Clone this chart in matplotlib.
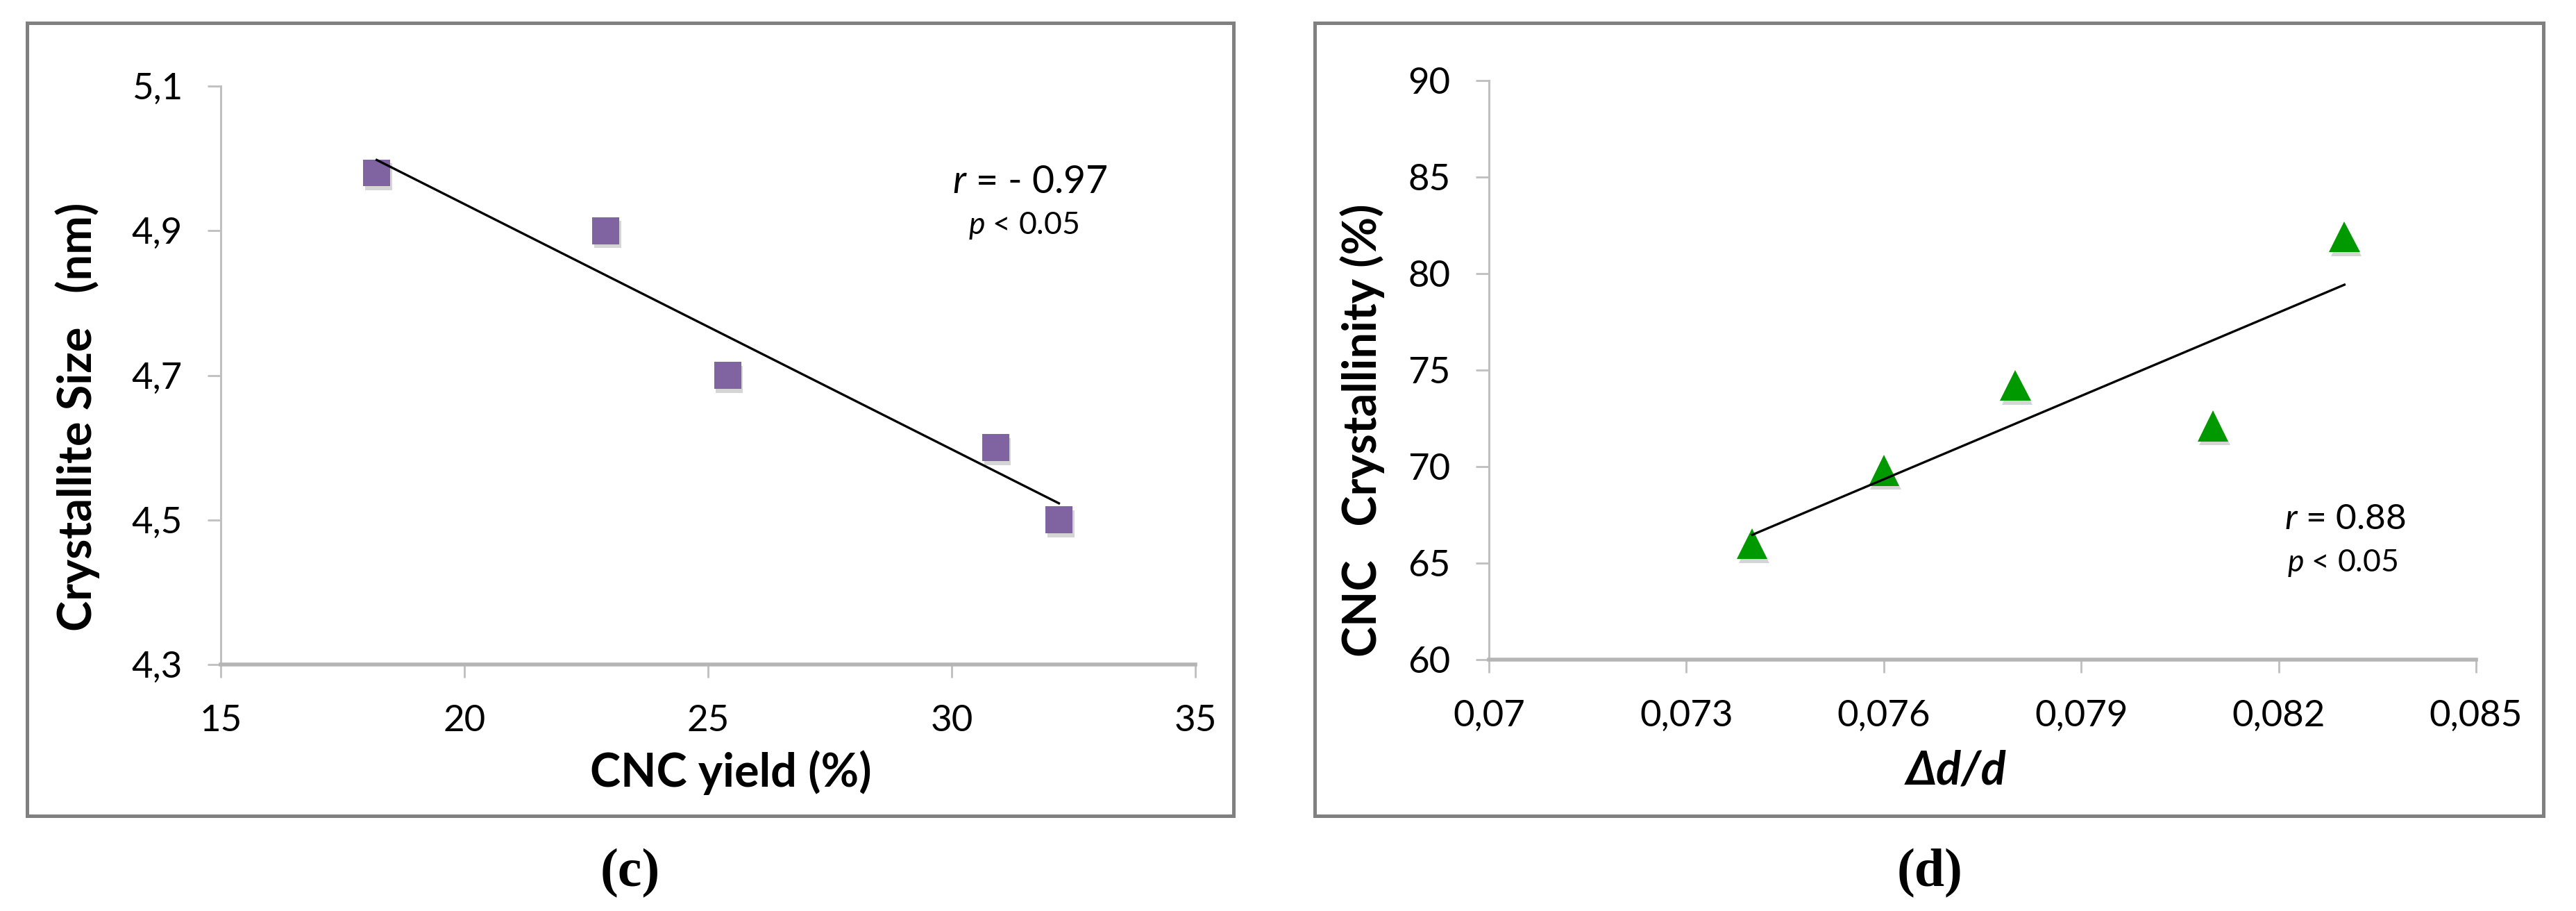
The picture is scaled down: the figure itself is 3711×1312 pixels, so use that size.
import numpy as np
import matplotlib
matplotlib.use("Agg")
import matplotlib.pyplot as plt
import matplotlib.patheffects as pe
from matplotlib.patches import Rectangle

# ===================== data =====================
# (c) crystallite size vs CNC yield
cnc_yield = [18.2, 22.9, 25.4, 30.9, 32.2]
cryst_size = [4.98, 4.90, 4.70, 4.60, 4.50]
c_xticks = [15, 20, 25, 30, 35]
c_xticklabels = ["15", "20", "25", "30", "35"]
c_yticks = [4.3, 4.5, 4.7, 4.9, 5.1]
c_yticklabels = ["4,3", "4,5", "4,7", "4,9", "5,1"]

# (d) CNC crystallinity vs delta d / d
dd_ratio = [0.074, 0.076, 0.078, 0.081, 0.083]
crystallinity = [66.0, 69.8, 74.2, 72.1, 81.9]
d_xticks = [0.07, 0.073, 0.076, 0.079, 0.082, 0.085]
d_xticklabels = ["0,07", "0,073", "0,076", "0,079", "0,082", "0,085"]
d_yticks = [60, 65, 70, 75, 80, 85, 90]
d_yticklabels = ["60", "65", "70", "75", "80", "85", "90"]

# ===================== style =====================
W, H = 3711, 1312
plt.rcParams["font.family"] = ["Lato", "DejaVu Sans"]
plt.rcParams["mathtext.fontset"] = "custom"
plt.rcParams["mathtext.rm"] = "Lato"
plt.rcParams["mathtext.it"] = "Lato:italic"
AXIS_GRAY = "#bfbfbf"
FRAME_GRAY = "#808080"
PURPLE = "#8064A2"
GREEN = "#009a00"
LABEL_SIZE = 48
shadow = [pe.SimplePatchShadow(offset=(2, -4), shadow_rgbFace="#888888", alpha=0.35), pe.Normal()]


def fx(px):
    return px / W


def fy(py):
    return 1 - py / H


def style_axes(ax, xticks, xlabels, yticks, ylabels):
    ax.spines["top"].set_visible(False)
    ax.spines["right"].set_visible(False)
    ax.spines["left"].set_color(AXIS_GRAY)
    ax.spines["left"].set_linewidth(2.2)
    ax.spines["bottom"].set_color("#b5b5b5")
    ax.spines["bottom"].set_linewidth(4)
    ax.set_xticks(xticks)
    ax.set_xticklabels(xlabels)
    ax.set_yticks(yticks)
    ax.set_yticklabels(ylabels)
    ax.tick_params(direction="out", length=13.7, width=2, color=AXIS_GRAY,
                   labelsize=38, labelcolor="black")
    ax.tick_params(axis="y", pad=26)
    ax.tick_params(axis="x", pad=28)
    ax.set_facecolor("none")


fig = plt.figure(figsize=(W / 100, H / 100), dpi=100)

# outer frames around each panel
for x0, x1 in [(39, 1777), (1894, 3664)]:
    fig.patches.append(Rectangle((fx(x0), fy(1175)), fx(x1 - x0), (1175 - 33) / H,
                                 transform=fig.transFigure, fill=False,
                                 ec=FRAME_GRAY, lw=3.6))

# ===================== panel (c) =====================
ax1 = fig.add_axes([fx(318), fy(957), fx(1722 - 318), (957 - 124) / H])
ax1.set_xlim(15, 35)
ax1.set_ylim(4.3, 5.1)
style_axes(ax1, c_xticks, c_xticklabels, c_yticks, c_yticklabels)
ax1.plot(cnc_yield, cryst_size, "s", ms=28, color=PURPLE, mec="none",
         path_effects=shadow, zorder=3)
k, b = np.polyfit(cnc_yield, cryst_size, 1)
xs = np.array([min(cnc_yield), max(cnc_yield)])
ax1.plot(xs, k * xs + b, color="black", lw=2.4, zorder=4)

fig.text(fx(112), fy(600), "Crystallite Size   (nm)", rotation=90, ha="center", va="center",
         fontsize=LABEL_SIZE, fontweight="bold")
fig.text(fx(1053), fy(1113), "CNC yield (%)", ha="center", va="center",
         fontsize=LABEL_SIZE, fontweight="bold")
fig.text(fx(1372), fy(278), r"$r$ = - 0.97", ha="left", va="baseline", fontsize=40)
fig.text(fx(1395), fy(337), r"$p$ < 0.05", ha="left", va="baseline", fontsize=32)

# ===================== panel (d) =====================
ax2 = fig.add_axes([fx(2145), fy(950), fx(3567 - 2145), (950 - 116) / H])
ax2.set_xlim(0.07, 0.085)
ax2.set_ylim(60, 90)
style_axes(ax2, d_xticks, d_xticklabels, d_yticks, d_yticklabels)
ax2.plot(dd_ratio, crystallinity, "^", ms=32, color=GREEN, mec="none",
         path_effects=shadow, zorder=3)
k2, b2 = np.polyfit(dd_ratio, crystallinity, 1)
xs2 = np.array([min(dd_ratio), max(dd_ratio)])
ax2.plot(xs2, k2 * xs2 + b2, color="black", lw=2.4, zorder=4)

fig.text(fx(1963), fy(620), "CNC   Crystallinity (%)", rotation=90, ha="center", va="center",
         fontsize=LABEL_SIZE, fontweight="bold")
fig.text(fx(2818), fy(1110), "Δd/d", ha="center", va="center",
         fontsize=LABEL_SIZE, fontweight="bold", fontstyle="italic")
fig.text(fx(3291), fy(762), r"$r$ = 0.88", ha="left", va="baseline", fontsize=37)
fig.text(fx(3295), fy(823), r"$p$ < 0.05", ha="left", va="baseline", fontsize=32)

# ===================== captions =====================
fig.text(fx(908), fy(1258), "(c)", ha="center", va="center", fontsize=56,
         fontweight="bold", family="Liberation Serif")
fig.text(fx(2780), fy(1258), "(d)", ha="center", va="center", fontsize=56,
         fontweight="bold", family="Liberation Serif")

fig.savefig("out.png", dpi=100, facecolor="white")
